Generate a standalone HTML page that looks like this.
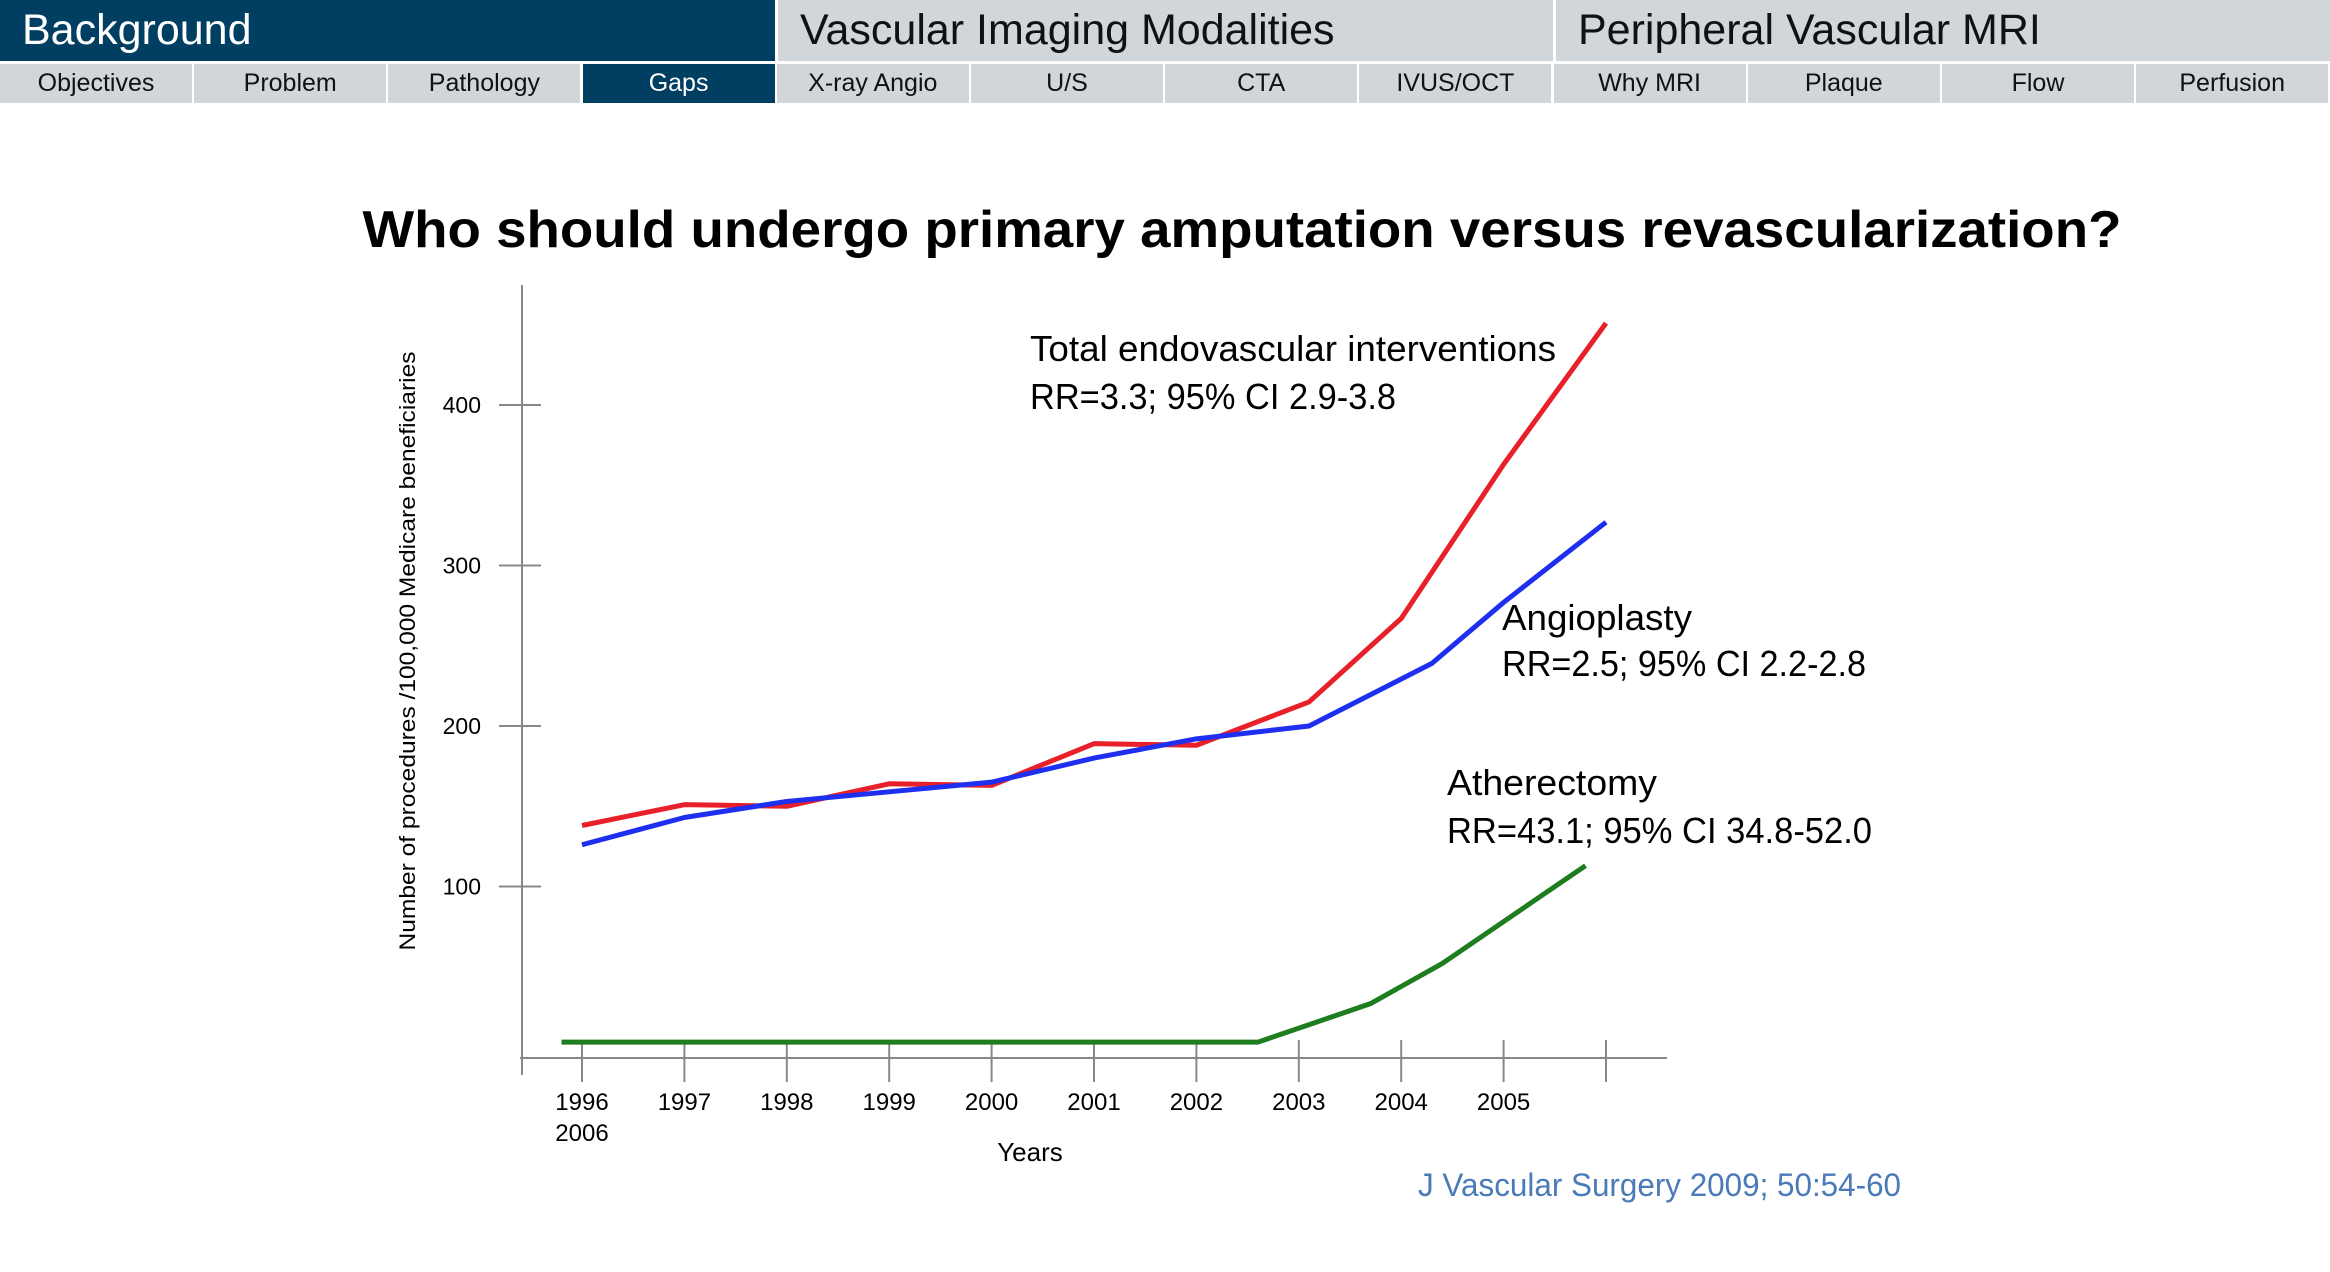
<!DOCTYPE html>
<html><head><meta charset="utf-8"><style>
body{margin:0;width:2330px;height:1272px;background:#fff;overflow:hidden;font-family:"Liberation Sans",sans-serif}
.top{position:absolute;top:0;height:61px;background:#d0d6da;color:#111;font-size:43px;line-height:61px;padding-left:22px;box-sizing:border-box}
.tab{position:absolute;top:64px;height:39px;background:#d0d6da;color:#111;font-size:25px;line-height:39px;text-align:center}
.dark{background:#003e62;color:#fff}
</style></head><body>
<div class="top dark" style="left:0;width:775px">Background</div>
<div class="top" style="left:778px;width:775px">Vascular Imaging Modalities</div>
<div class="top" style="left:1556px;width:774px">Peripheral Vascular MRI</div>
<div id="tabs"></div>
<svg width="2330" height="1272" style="position:absolute;left:0;top:0" id="chart">
<text x="1242" y="247" text-anchor="middle" font-size="52" font-weight="bold" textLength="1759" lengthAdjust="spacingAndGlyphs">Who should undergo primary amputation versus revascularization?</text>
<line x1="522" y1="285" x2="522" y2="1075" stroke="#888" stroke-width="2"/>
<line x1="520" y1="1058" x2="1667" y2="1058" stroke="#888" stroke-width="2"/>
<text transform="translate(415,651) rotate(-90)" text-anchor="middle" font-size="22" textLength="599" lengthAdjust="spacingAndGlyphs">Number of procedures /100,000 Medicare beneficiaries</text>
<text x="1030" y="1161" text-anchor="middle" font-size="26">Years</text>
<g id="g"></g>
<text x="1030" y="361" font-size="36" textLength="526" lengthAdjust="spacingAndGlyphs">Total endovascular interventions</text>
<text x="1030" y="409" font-size="36" textLength="366" lengthAdjust="spacingAndGlyphs">RR=3.3; 95% CI 2.9-3.8</text>
<text x="1502" y="630" font-size="36" textLength="190" lengthAdjust="spacingAndGlyphs">Angioplasty</text>
<text x="1502" y="676" font-size="36" textLength="364" lengthAdjust="spacingAndGlyphs">RR=2.5; 95% CI 2.2-2.8</text>
<text x="1447" y="795" font-size="36" textLength="210" lengthAdjust="spacingAndGlyphs">Atherectomy</text>
<text x="1447" y="843" font-size="36" textLength="425" lengthAdjust="spacingAndGlyphs">RR=43.1; 95% CI 34.8-52.0</text>
<text x="1418" y="1196" font-size="32" fill="#4a7ab8" textLength="483" lengthAdjust="spacingAndGlyphs">J Vascular Surgery 2009; 50:54-60</text>
</svg>
<script>
const tabNames=["Objectives","Problem","Pathology","Gaps","X-ray Angio","U/S","CTA","IVUS/OCT","Why MRI","Plaque","Flow","Perfusion"];
const xTickYears=[1996,1997,1998,1999,2000,2001,2002,2003,2004,2005,2006];
const xTickLabels=["1996","1997","1998","1999","2000","2001","2002","2003","2004","2005",""];
const yTicks=[100,200,300,400];
const totalYears=[1996,1997,1998,1999,2000,2001,2002,2003.1,2004,2005,2006];
const totalVals=[138,151,150,164,163,189,188,215,267,363,451];
const angioYears=[1996,1997,1998,1999,2000,2001,2002,2003.1,2004.3,2005,2006];
const angioVals=[126,143,153,159,165,180,192,200,239,277,327];
const atherYears=[1995.8,2002.6,2003.7,2004.4,2005.8];
const atherVals=[3,3,27,52,113];
const ns="http://www.w3.org/2000/svg";
const tabs=document.getElementById('tabs');
tabNames.forEach((t,i)=>{const d=document.createElement('div');d.className='tab'+(t==='Gaps'?' dark':'');
d.style.left=(i*194.2)+'px';d.style.width='192px';d.textContent=t;

tabs.appendChild(d);});
const xS=y=>582+(y-1996)*102.4;
const yS=v=>1047-v*1.605;
const g=document.getElementById('g');
function mk(tag,a){const e=document.createElementNS(ns,tag);for(const k in a)e.setAttribute(k,a[k]);g.appendChild(e);return e;}
yTicks.forEach(v=>{const l=mk('line',{x1:499,x2:541,y1:yS(v),y2:yS(v),stroke:'#888','stroke-width':2});


const t=mk('text',{x:481,y:yS(v)+8,'text-anchor':'end','font-size':23});t.textContent=v;

});
xTickYears.forEach((y,i)=>{const l=mk('line',{x1:xS(y),x2:xS(y),y1:1040,y2:1082,stroke:'#888','stroke-width':2});


const t=mk('text',{x:xS(y),y:1110,'text-anchor':'middle','font-size':24});t.textContent=xTickLabels[i];

});
const t6=mk('text',{x:xS(1996),y:1141,'text-anchor':'middle','font-size':24});t6.textContent='2006';


function series(xs,vs,c,name){const p=mk('polyline',{points:xs.map((x,i)=>xS(x)+','+yS(vs[i])).join(' '),fill:'none',stroke:c,'stroke-width':5,'stroke-linejoin':'round'});

}
series(atherYears,atherVals,'#1e7d1e','atherectomy-line');
series(totalYears,totalVals,'#e8202a','total-line');
series(angioYears,angioVals,'#1f2ff0','angioplasty-line');
</script>
</body></html>
